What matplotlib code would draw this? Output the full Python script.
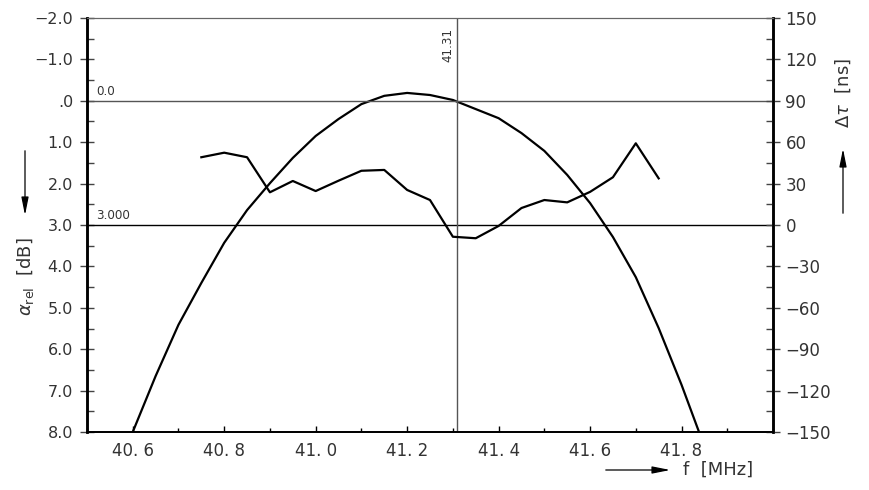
import matplotlib
matplotlib.use("Agg")
import matplotlib.pyplot as plt
from matplotlib.ticker import MultipleLocator, FixedLocator

plt.rcParams['font.family'] = ['DejaVu Sans']
plt.rcParams['mathtext.fontset'] = 'dejavusans'

# amplitude response (left axis, dB, inverted)
freq_amp = [40.6, 40.65, 40.7, 40.75, 40.8, 40.85, 40.9, 40.95, 41.0, 41.05,
            41.1, 41.15, 41.2, 41.25, 41.3, 41.35, 41.4, 41.45, 41.5, 41.55,
            41.6, 41.65, 41.7, 41.75, 41.8, 41.85]
amp_db = [8.0, 6.65, 5.41, 4.40, 3.43, 2.64, 1.99, 1.38, 0.85, 0.44,
          0.08, -0.12, -0.19, -0.14, -0.02, 0.20, 0.42, 0.78, 1.21, 1.79,
          2.47, 3.29, 4.26, 5.49, 6.86, 8.35]

# group delay (right axis, ns)
freq_delay = [40.75, 40.8, 40.85, 40.9, 40.95, 41.0, 41.05, 41.1, 41.15, 41.2,
              41.25, 41.3, 41.35, 41.4, 41.45, 41.5, 41.55, 41.6, 41.65, 41.7,
              41.75]
delay_ns = [49.1, 52.4, 49.1, 23.7, 31.9, 24.6, 32.1, 39.3, 39.9, 25.4,
            18.1, -8.5, -9.6, -0.7, 12.3, 18.1, 16.4, 24.0, 34.6, 59.2,
            33.8]

left_ticks = [-2, -1, 0, 1, 2, 3, 4, 5, 6, 7, 8]
left_labels = ['\u22122.0', '\u22121.0', '.0', '1.0', '2.0', '3.0', '4.0',
               '5.0', '6.0', '7.0', '8.0']
x_ticks = [40.6, 40.8, 41.0, 41.2, 41.4, 41.6, 41.8]
x_labels = ['40. 6', '40. 8', '41. 0', '41. 2', '41. 4', '41. 6', '41. 8']
right_ticks = [150, 120, 90, 60, 30, 0, -30, -60, -90, -120, -150]
marker_f = 41.31

txtc = '#333333'

fig = plt.figure(figsize=(8.69, 4.90), dpi=100)
ax = fig.add_axes([87/869, 1-432/490, (773-87)/869, (432-18)/490])
ax2 = ax.twinx()

ax.set_xlim(40.5, 42.0)
ax.set_ylim(8, -2)
ax2.set_ylim(-150, 150)

ax.plot(freq_amp, amp_db, color='black', lw=1.6)
ax2.plot(freq_delay, delay_ns, color='black', lw=1.6)

ax.axhline(0, color='#555555', lw=1.0)
ax.axhline(3, color='black', lw=1.0)
ax.axvline(marker_f, color='#555555', lw=1.0)
ax.text(40.52, -0.07, '0.0', fontsize=8.6, color=txtc, va='bottom', ha='left')
ax.text(40.52, 2.93, '3.000', fontsize=8.6, color=txtc, va='bottom', ha='left')
ax.text(marker_f - 0.006, -1.36, '41.31', rotation=90, fontsize=8.6, color=txtc,
        ha='right', va='center')

# spines
for a in (ax, ax2):
    a.spines['top'].set_color('#666666')
    a.spines['top'].set_linewidth(0.8)
    a.spines['bottom'].set_linewidth(1.3)
    a.spines['left'].set_linewidth(1.8)
    a.spines['right'].set_linewidth(1.8)

ax.yaxis.set_major_locator(FixedLocator(left_ticks))
ax.set_yticklabels(left_labels)
ax.yaxis.set_minor_locator(MultipleLocator(0.5))
ax.tick_params(axis='y', which='major', direction='inout', length=10, width=1,
               pad=5, labelsize=11.5, labelcolor=txtc, color='#444444')
ax.tick_params(axis='y', which='minor', direction='in', length=5, width=1,
               color='#444444')

ax.xaxis.set_major_locator(FixedLocator(x_ticks))
ax.set_xticklabels(x_labels)
ax.xaxis.set_minor_locator(MultipleLocator(0.1))
ax.tick_params(axis='x', which='major', direction='in', length=4, width=1,
               pad=7, labelsize=12, labelcolor=txtc)
ax.tick_params(axis='x', which='minor', direction='in', length=3, width=1)

ax2.yaxis.set_major_locator(FixedLocator(right_ticks))
ax2.set_yticklabels(['\u2212' + str(-t) if t < 0 else str(t) for t in right_ticks])
ax2.yaxis.set_minor_locator(MultipleLocator(15))
ax2.tick_params(axis='y', which='major', direction='inout', length=10, width=1,
                pad=4, labelsize=12, labelcolor=txtc, color='#444444')
ax2.tick_params(axis='y', which='minor', direction='in', length=5, width=1,
                color='#444444')

# axis labels with arrows
fig.text(26/869, 1-277/490, r'$\alpha_{\rm rel}$  [dB]', rotation=90,
         fontsize=13, color=txtc, ha='center', va='center')
fig.text(843/869, 1-93/490, r'$\Delta\tau$  [ns]', rotation=90,
         fontsize=13, color=txtc, ha='center', va='center')
fig.text(683/869, 1-470/490, 'f  [MHz]', fontsize=13, color=txtc,
         ha='left', va='center')

arr = dict(arrowstyle='-|>,head_length=0.9,head_width=0.18', color='black',
           lw=0.9, mutation_scale=12)
fig.add_artist(matplotlib.patches.FancyArrowPatch(
    (25/869, 1-148/490), (25/869, 1-218/490), transform=fig.transFigure, **arr))
fig.add_artist(matplotlib.patches.FancyArrowPatch(
    (843/869, 1-216/490), (843/869, 1-146/490), transform=fig.transFigure, **arr))
fig.add_artist(matplotlib.patches.FancyArrowPatch(
    (603/869, 1-470/490), (673/869, 1-470/490), transform=fig.transFigure, **arr))

fig.savefig('out.png', dpi=100)
